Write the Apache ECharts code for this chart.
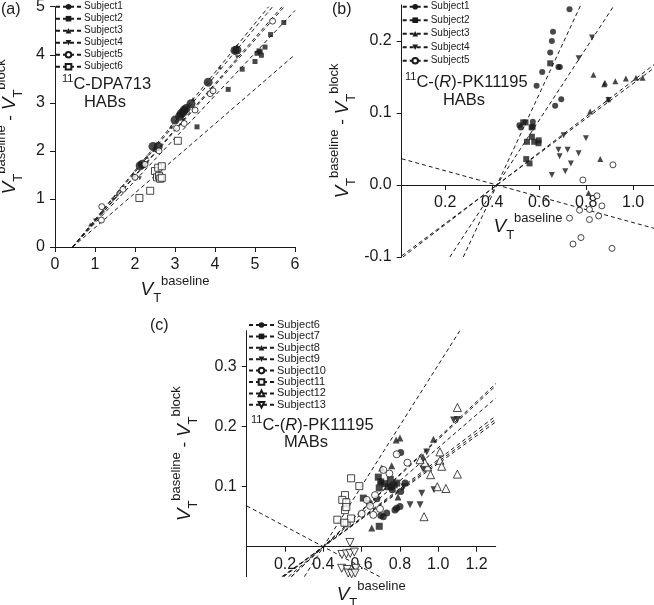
<!DOCTYPE html>
<html><head><meta charset="utf-8">
<script src="https://cdn.jsdelivr.net/npm/echarts@6/dist/echarts.min.js"></script>
<style>html,body{margin:0;padding:0;background:#fff}#c{width:654px;height:605px}</style>
</head><body><div id="c"></div>
<script>
// ================= DATA =================
// Panel (a): 11C-DPA713, HABs
const aNames = ['Subject1','Subject2','Subject3','Subject4','Subject5','Subject6'];
const aSubject1 = [[2.13,1.69],[2.18,1.72],[2.45,2.09],[2.58,2.09],[3.0,2.64],[3.12,2.72],[3.15,2.77],[3.2,2.8],[3.23,2.85],[3.28,2.88],[3.4,2.98],[3.83,3.43],[4.5,4.09],[4.55,4.1]];
const aSubject2 = [[3.55,2.5],[4.33,3.28],[4.68,3.7],[5.0,3.86],[5.05,4.03],[5.1,4.08],[5.13,4.06],[5.16,3.99],[5.25,4.16],[5.39,4.42],[5.72,4.67]];
const aSubject3 = [[0.88,0.47],[1.2,0.76],[1.55,1.1],[1.96,1.53],[2.3,1.88],[2.48,2.02],[2.9,2.5],[3.3,2.9],[3.45,3.08],[4.12,3.74],[4.55,4.18]];
const aSubject4 = [[1.0,0.55],[1.45,0.98],[1.98,1.44],[2.12,1.43],[2.3,1.74],[2.6,2.02],[3.2,2.63],[3.9,3.27],[4.55,3.95]];
const aSubject5 = [[1.17,0.84],[1.16,0.56],[1.7,1.2],[2.0,1.45],[2.25,1.72],[2.6,2.0],[3.04,2.47],[3.23,2.57],[3.5,2.85],[3.88,3.19],[3.95,3.25],[5.44,4.7]];
const aSubject6 = [[2.11,1.02],[2.38,1.17],[2.5,1.58],[2.58,1.65],[2.55,1.45],[2.6,1.48],[2.63,1.42],[2.67,1.44],[2.67,1.68],[3.07,2.21]];
const aSlopes = [1.0, 0.885, 1.02, 0.955, 0.945, 0.72];
const aXIntercept = 0.44;
const aXTicks = [0,1,2,3,4,5,6];
const aYTicks = [0,1,2,3,4,5];

// Panel (b): 11C-(R)-PK11195, HABs
const bNames = ['Subject1','Subject2','Subject3','Subject4','Subject5'];
const bSubject1 = [[0.729,0.244],[0.659,0.213],[0.654,0.2],[0.647,0.184],[0.613,0.157],[0.682,0.164],[0.688,0.164],[0.589,0.138],[0.694,0.119],[0.668,0.11],[0.516,0.083],[0.521,0.08],[0.573,0.088]];
const bSubject2 = [[0.647,0.169],[0.532,0.087],[0.542,0.087],[0.568,0.08],[0.572,0.081],[0.548,0.06],[0.579,0.06],[0.597,0.058],[0.598,0.062],[0.569,0.067],[0.545,0.036],[0.559,0.03]];
const bSubject3 = [[0.831,0.153],[0.877,0.14],[0.88,0.142],[0.924,0.144],[0.969,0.148],[1.012,0.149],[1.04,0.149],[0.817,0.102],[0.893,0.119],[0.86,0.036],[0.81,-0.011]];
const bSubject4 = [[0.825,0.205],[0.768,0.176],[0.799,0.065],[0.682,0.049],[0.721,0.049],[0.687,0.04],[0.768,0.044],[0.735,0.03],[0.711,0.019],[0.654,0.014],[0.895,0.118],[0.704,0.069]];
const bSubject5 = [[0.914,0.028],[0.786,0.007],[0.846,-0.015],[0.772,-0.035],[0.814,-0.034],[0.867,-0.029],[0.729,-0.046],[0.814,-0.048],[0.853,-0.043],[0.778,-0.073],[0.744,-0.082],[0.91,-0.088]];
const bSlopes = [0.70, 0.25, 0.243, 0.50, -0.09];
const bXIntercept = 0.42;
const bXTicks = [0.2,0.4,0.6,0.8,1.0];
const bYTicks = [-0.1,0.0,0.1,0.2];

// Panel (c): 11C-(R)-PK11195, MABs
const cNames = ['Subject6','Subject7','Subject8','Subject9','Subject10','Subject11','Subject12','Subject13'];
const cSubject6 = [[0.804,0.157],[0.713,0.05],[0.731,0.056],[0.774,0.061],[0.783,0.064],[0.8,0.067],[0.70,0.052],[0.64,0.073],[0.827,0.106],[0.804,0.092],[0.68,0.08],[0.76,0.095]];
const cSubject7 = [[0.609,0.081],[0.687,0.116],[0.70,0.108],[0.692,0.098],[0.72,0.105],[0.739,0.1],[0.755,0.1],[0.77,0.103],[0.783,0.106],[0.75,0.112],[0.692,0.034]];
const cSubject8 = [[0.78,0.178],[0.80,0.181],[0.705,0.131],[0.757,0.135],[0.653,0.031],[0.975,0.179],[0.79,0.083],[0.92,0.15],[0.70,0.11]];
const cSubject9 = [[1.08,0.211],[1.1,0.212],[0.853,0.07],[0.905,0.07],[0.914,0.089],[0.978,0.095],[0.94,0.158],[0.82,0.1],[0.92,0.13]];
const cSubject10 = [[0.783,0.154],[0.745,0.122],[0.67,0.086],[0.644,0.068],[0.696,0.063],[0.661,0.053],[0.627,0.078],[0.839,0.14],[0.713,0.128],[0.6,0.055]];
const cSubject11 = [[0.545,0.114],[0.513,0.086],[0.499,0.078],[0.52,0.074],[0.513,0.061],[0.52,0.066],[0.473,0.045],[0.522,0.039],[0.545,0.047],[0.588,0.101],[0.51,0.04]];
const cSubject12 = [[1.1,0.232],[1.009,0.158],[1.009,0.144],[1.018,0.134],[1.1,0.121],[0.995,0.1],[0.926,0.05],[0.945,0.133],[0.96,0.12],[1.04,0.097],[0.93,0.14],[0.905,0.145]];
const cSubject13 = [[0.539,0.007],[0.497,-0.013],[0.52,-0.012],[0.54,-0.011],[0.562,-0.009],[0.496,-0.036],[0.525,-0.038],[0.57,-0.036],[0.53,-0.044],[0.548,-0.045],[0.566,-0.044]];
const cSlopes = [0.242, 0.298, 0.302, 0.231, 0.275, 0.505, 0.236, -0.17];
const cXIntercept = 0.4;
const cXTicks = [0.2,0.4,0.6,0.8,1.0,1.2];
const cYTicks = [0.1,0.2,0.3];

// ================= STYLE / LAYOUT =================
const FONT = '"Liberation Sans", Arial, Helvetica, sans-serif';
const INK = '#1a1a1a';
const tri = 'triangle';
const aStyle = [
  {sym:'circle',size:9},{sym:'rect',size:5},{sym:tri,size:4},{sym:tri,size:4,rot:180},
  {sym:'circle',size:6,open:true},{sym:'rect',size:7,open:true}];
const bStyle = [
  {sym:'circle',size:6},{sym:'rect',size:6},{sym:tri,size:6},{sym:tri,size:6,rot:180},{sym:'circle',size:6,open:true}];
const cStyle = [
  {sym:'circle',size:7},{sym:'rect',size:7},{sym:tri,size:7},{sym:tri,size:7,rot:180},
  {sym:'circle',size:7,open:true},{sym:'rect',size:7,open:true},{sym:tri,size:8,open:true},{sym:tri,size:8,open:true,rot:180}];

const aRange = {x:[0,6], y:[0,5]};
const bRange = {x:[0.015,1.09], y:[-0.1,0.25]};
const cRange = {x:[0,1.3], y:[-0.05,0.36]};

function seg(slope, x0, xr, yr) {
  const f = x => slope*(x-x0), g = y => x0 + y/slope, e = 1e-9;
  const cand = [[xr[0],f(xr[0])],[xr[1],f(xr[1])],[g(yr[0]),yr[0]],[g(yr[1]),yr[1]]];
  const pts = cand.filter(p => p[0]>=xr[0]-e && p[0]<=xr[1]+e && p[1]>=yr[0]-e && p[1]<=yr[1]+e);
  pts.sort((a,b)=>a[0]-b[0]);
  return [pts[0], pts[pts.length-1]];
}

const series = [];
function build(tag, gi, names, pts, slopes, x0, rng, sty) {
  names.forEach((n,i) => {
    const st = sty[i];
    const itemStyle = st.open ? {color:'#fff',borderColor:INK,borderWidth:1} : {color:INK,borderWidth:0};
    series.push({type:'line', name:tag+'|'+n, xAxisIndex:gi, yAxisIndex:gi,
      data: seg(slopes[i], x0, rng.x, rng.y), symbol:st.sym, symbolRotate:st.rot||0,
      showSymbol:false, lineStyle:{color:INK,width:1,type:[4,3]}, itemStyle, silent:true, z:2});
    series.push({type:'scatter', name:tag+'|'+n, xAxisIndex:gi, yAxisIndex:gi, data:pts[i],
      symbol:st.sym, symbolRotate:st.rot||0, symbolSize:st.size, itemStyle, z:3});
  });
}
build('a',0,aNames,[aSubject1,aSubject2,aSubject3,aSubject4,aSubject5,aSubject6],aSlopes,aXIntercept,aRange,aStyle);
build('b',1,bNames,[bSubject1,bSubject2,bSubject3,bSubject4,bSubject5],bSlopes,bXIntercept,bRange,bStyle);
build('c',2,cNames,[cSubject6,cSubject7,cSubject8,cSubject9,cSubject10,cSubject11,cSubject12,cSubject13],cSlopes,cXIntercept,cRange,cStyle);

const rich = {
  v:{fontStyle:'italic',fontSize:19,fontFamily:FONT,color:INK,lineHeight:30,verticalAlign:'middle'},
  sub:{fontSize:13,fontFamily:FONT,color:INK,lineHeight:13,verticalAlign:'bottom'},
  sup:{fontSize:13,fontFamily:FONT,color:INK,lineHeight:13,verticalAlign:'top'},
  n:{fontSize:17,fontFamily:FONT,color:INK,lineHeight:17,verticalAlign:'middle'}
};
const xName = '{v|V}{sub|T}{sup|baseline}';
const yName = '{v|V}{sub|T}{sup|baseline}{n| - }{v|V}{sub|T}{sup|block}';

function axis(rng, ticks, fmt, extra) {
  return Object.assign({
    type:'value', min:rng[0], max:rng[1], splitLine:{show:false},
    axisLine:{show:true,onZero:false,lineStyle:{color:INK,width:1}},
    axisTick:{show:true,inside:false,length:5,lineStyle:{color:INK},customValues:ticks},
    axisLabel:{color:INK,fontSize:16,fontFamily:FONT,customValues:ticks,formatter:fmt,margin:10},
    nameLocation:'middle', nameTextStyle:{rich}
  }, extra);
}
const f0 = v => String(Math.round(v));
const f1 = v => v.toFixed(1);

function legend(tag, names, left, top, fs, gap) {
  return {data:names.map(n=>tag+'|'+n), orient:'vertical', left, top, padding:0,
    itemWidth:25, itemHeight:7, itemGap:gap, selectedMode:false,
    formatter: nm => nm.split('|')[1],
    textStyle:{fontSize:fs,fontFamily:FONT,color:INK,lineHeight:fs,padding:[0,0,0,-2]}};
}

function label(x, y, text, align) {
  return {type:'text', x, y, style:{text, x:0, y:0, align:align||'left', verticalAlign:'middle',
    fill:INK, font:'16px '+FONT, rich:{
      s:{fontSize:11,fontFamily:FONT,fill:INK,lineHeight:11,verticalAlign:'top'},
      t:{fontSize:16.5,fontFamily:FONT,fill:INK,lineHeight:22,verticalAlign:'middle'},
      ti:{fontSize:16.5,fontFamily:FONT,fontStyle:'italic',fill:INK,lineHeight:22,verticalAlign:'middle'}
    }}};
}

const gridBase = {outerBoundsMode:'none', containLabel:false};
const option = {
  animation:false,
  backgroundColor:'#fff',
  grid:[
    Object.assign({left:55, top:6.7, width:240, height:240.3}, gridBase),
    Object.assign({left:401.7, top:5, width:252.6, height:252}, gridBase),
    Object.assign({left:246.7, top:330.7, width:249, height:246}, gridBase)
  ],
  xAxis:[
    axis(aRange.x, aXTicks, f0, {gridIndex:0, name:xName, nameGap:28}),
    axis(bRange.x, bXTicks, f1, {gridIndex:1, name:xName, nameGap:27, offset:-72}),
    axis(cRange.x, cXTicks, f1, {gridIndex:2, name:xName, nameGap:33, offset:-30})
  ],
  yAxis:[
    axis(aRange.y, aYTicks, f0, {gridIndex:0, name:yName, nameGap:30}),
    axis(bRange.y, bYTicks, f1, {gridIndex:1, name:yName, nameGap:44}),
    axis(cRange.y, cYTicks, f1, {gridIndex:2, name:yName, nameGap:47})
  ],
  legend:[
    legend('a', aNames, 55, 1.7, 10, 2),
    legend('b', bNames, 401.7, 1.7, 10, 3.5),
    legend('c', cNames, 248, 319.5, 11, 0.4)
  ],
  graphic:[
    {type:'text', x:1, y:2, style:{text:'(a)', font:'16px '+FONT, fill:INK}},
    {type:'text', x:332, y:2, style:{text:'(b)', font:'16px '+FONT, fill:INK}},
    {type:'text', x:150, y:318, style:{text:'(c)', font:'16px '+FONT, fill:INK}},
    label(62, 84, '{s|11}{t|C-DPA713}'),
    label(105, 102, '{t|HABs}', 'center'),
    label(405, 82, '{s|11}{t|C-(}{ti|R}{t|)-PK11195}'),
    label(464, 100, '{t|HABs}', 'center'),
    label(251, 425, '{s|11}{t|C-(}{ti|R}{t|)-PK11195}'),
    label(306, 442, '{t|MABs}', 'center')
  ],
  series
};
const chart = echarts.init(document.getElementById('c'), null, {renderer:'canvas'});
chart.setOption(option);
</script></body></html>
